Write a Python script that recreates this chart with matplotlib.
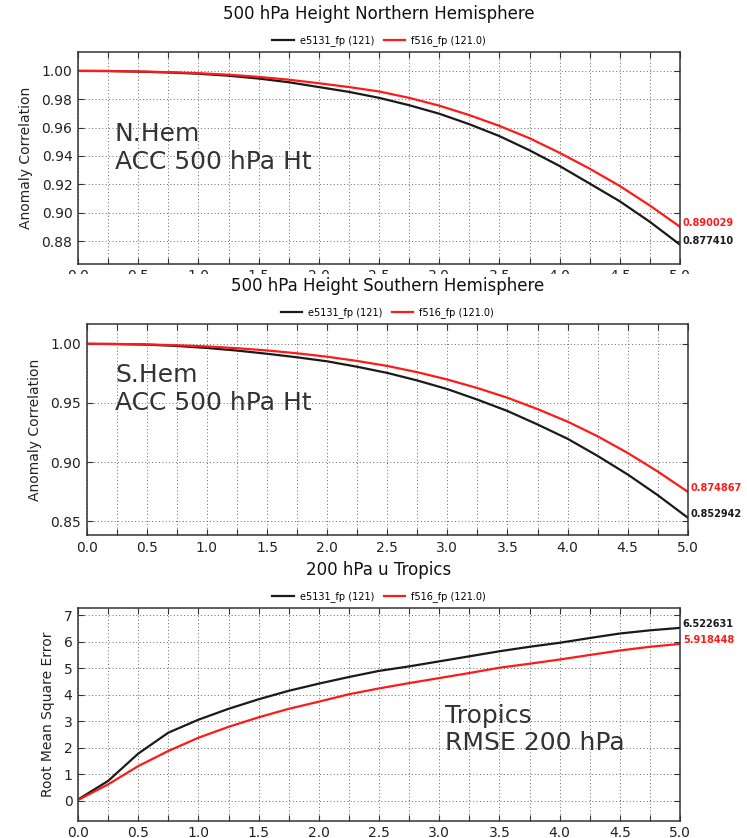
import matplotlib
matplotlib.use("Agg")
import matplotlib.pyplot as plt
from matplotlib.ticker import MultipleLocator, FormatStrFormatter
from matplotlib.patches import Rectangle

# forecast day, every 6 hours
days = [0.0, 0.25, 0.5, 0.75, 1.0, 1.25, 1.5, 1.75, 2.0, 2.25, 2.5,
        2.75, 3.0, 3.25, 3.5, 3.75, 4.0, 4.25, 4.5, 4.75, 5.0]

series_labels = ["e5131_fp (121)", "f516_fp (121.0)"]

nh_e5131 = [1.0000, 0.9999, 0.9995, 0.9989, 0.9980, 0.9966, 0.9946, 0.9920,
            0.9886, 0.9852, 0.9810, 0.9758, 0.9698, 0.9624, 0.9540, 0.9440,
            0.9329, 0.9205, 0.9080, 0.8935, 0.877410]
nh_f516 = [1.0000, 0.9999, 0.9996, 0.9991, 0.9984, 0.9973, 0.9958, 0.9938,
           0.9913, 0.9886, 0.9855, 0.9810, 0.9755, 0.9688, 0.9612, 0.9525,
           0.9422, 0.9310, 0.9188, 0.9050, 0.890029]

sh_e5131 = [1.0000, 0.9998, 0.9993, 0.9982, 0.9965, 0.9943, 0.9916, 0.9886,
            0.9852, 0.9806, 0.9754, 0.9690, 0.9617, 0.9528, 0.9432, 0.9318,
            0.9197, 0.9052, 0.8895, 0.8720, 0.852942]
sh_f516 = [1.0000, 0.9999, 0.9995, 0.9988, 0.9978, 0.9963, 0.9944, 0.9920,
           0.9891, 0.9855, 0.9813, 0.9760, 0.9698, 0.9626, 0.9544, 0.9448,
           0.9342, 0.9218, 0.9077, 0.8920, 0.874867]

tr_e5131 = [0.05, 0.75, 1.78, 2.57, 3.06, 3.47, 3.83, 4.15, 4.42, 4.67, 4.90,
            5.07, 5.26, 5.45, 5.64, 5.81, 5.96, 6.14, 6.31, 6.43, 6.522631]
tr_f516 = [0.03, 0.62, 1.31, 1.88, 2.38, 2.79, 3.15, 3.47, 3.74, 4.02, 4.24,
           4.44, 4.63, 4.82, 5.02, 5.17, 5.33, 5.50, 5.67, 5.81, 5.918448]

panels = [
    dict(title="500 hPa Height Northern Hemisphere", ylabel="Anomaly Correlation",
         data=(nh_e5131, nh_f516), ylim=(0.864, 1.0133), ystep=0.02, yfmt="%.2f",
         note="N.Hem\nACC 500 hPa Ht", note_xy=(0.061, 0.547),
         pos=[0.1044, 0.6853, 0.806, 0.2526]),
    dict(title="500 hPa Height Southern Hemisphere", ylabel="Anomaly Correlation",
         data=(sh_e5131, sh_f516), ylim=(0.8383, 1.0168), ystep=0.05, yfmt="%.2f",
         note="S.Hem\nACC 500 hPa Ht", note_xy=(0.047, 0.69),
         pos=[0.1161, 0.3616, 0.8046, 0.2518]),
    dict(title="200 hPa u Tropics", ylabel="Root Mean Square Error",
         data=(tr_e5131, tr_f516), ylim=(-0.75, 7.27), ystep=1, yfmt="%d",
         note="Tropics\nRMSE 200 hPa", note_xy=(0.61, 0.429),
         pos=[0.1044, 0.0206, 0.806, 0.2538]),
]

colors = ["#1a1a1a", "#ff1a1a"]

fig = plt.figure(figsize=(7.47, 8.38), dpi=100)
fig.patch.set_facecolor("white")

for p in panels:
    ax = fig.add_axes(p["pos"])
    for vals, c, lab in zip(p["data"], colors, series_labels):
        ax.plot(days, vals, color=c, lw=1.6, label=lab)
        ax.annotate("%.6f" % vals[-1], xy=(days[-1], vals[-1]),
                    xytext=(2, 2.5), textcoords="offset points",
                    va="center", ha="left", fontsize=7, fontweight="bold",
                    color=c, annotation_clip=False)

    ax.set_xlim(0, 5)
    ax.set_ylim(*p["ylim"])
    ax.xaxis.set_major_locator(MultipleLocator(0.5))
    ax.xaxis.set_minor_locator(MultipleLocator(0.25))
    ax.xaxis.set_major_formatter(FormatStrFormatter("%.1f"))
    ax.yaxis.set_major_locator(MultipleLocator(p["ystep"]))
    ax.yaxis.set_major_formatter(FormatStrFormatter(p["yfmt"]))
    ax.tick_params(which="both", direction="in", top=True, right=True,
                   length=4, width=0.8, color="#333333",
                   labelsize=10, labelcolor="#222222", pad=4)
    grid_style = dict(ls=(0, (1, 2.5)), lw=0.7, color="#666666")
    ax.grid(True, which="major", axis="y", **grid_style)
    ax.grid(True, which="both", axis="x", **grid_style)
    for s in ax.spines.values():
        s.set_linewidth(1.1)
        s.set_color("#333333")

    ax.set_ylabel(p["ylabel"], fontsize=10, color="#222222", labelpad=6)
    ax.text(p["note_xy"][0], p["note_xy"][1], p["note"], transform=ax.transAxes,
            fontsize=18, color="#333333", va="center", ha="left",
            linespacing=1.2)
    ax.legend(loc="center", bbox_to_anchor=(0.5, 1.052), ncol=2, frameon=False,
              fontsize=7, handlelength=2.2, columnspacing=1.0, handletextpad=0.6)

    # title as figure text so it sits above the strip that hides the cut tick labels
    x0, y0, w, h = p["pos"]
    fig.text(x0 + w / 2, y0 + h + 38 / 838, p["title"], ha="center", va="center",
             fontsize=12, color="#111111", zorder=5)

# the source image was stitched from separate plots: bottom of the first x labels is cut
fig.patches.append(Rectangle((0, 1 - 292 / 838), 1, 18 / 838, transform=fig.transFigure,
                             facecolor="white", edgecolor="none", zorder=2))

fig.savefig("out.png", dpi=100, facecolor="white")
